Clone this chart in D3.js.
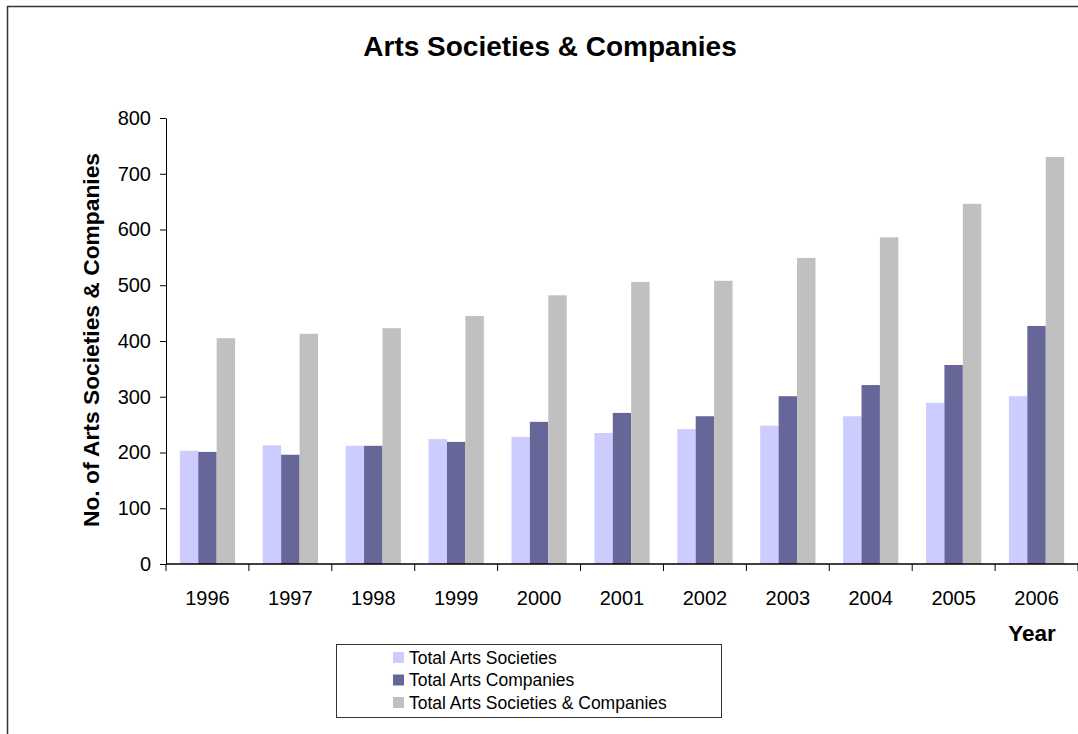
<!DOCTYPE html>
<html>
<head>
<meta charset="utf-8">
<script src="https://cdn.jsdelivr.net/npm/d3@7"></script>
<style>
	body { margin: 0; background: #fff; }
	svg { display: block; font-family: "Liberation Sans", Arial, sans-serif; }
	.axis path, .axis line { stroke: #000; }
	.axis text { font-size: 20px; fill: #000; }
</style>
</head>
<body>
<svg class="chart" width="1078" height="734"></svg>
<script>
// chart data
var years = ["1996","1997","1998","1999","2000","2001","2002","2003","2004","2005","2006"];
var seriesNames = ["Total Arts Societies", "Total Arts Companies", "Total Arts Societies & Companies"];
var societies = [203, 213, 212, 224, 228, 235, 242, 248, 265, 289, 301];
var companies = [201, 196, 212, 219, 255, 271, 265, 301, 321, 357, 427];
var combined  = [405, 413, 423, 445, 482, 506, 508, 549, 586, 646, 730];
var yTicks = [0, 100, 200, 300, 400, 500, 600, 700, 800];
var colors = ["#ccccff", "#666699", "#c0c0c0"];

function drawChart() {
	var svg = d3.select(".chart");

	var left = 166, right = 1078, top = 118, bottom = 564;

	// chart border
	svg.append("rect")
		.attr("x", 7.5).attr("y", 6.5)
		.attr("width", 1100).attr("height", 800)
		.attr("fill", "none")
		.attr("stroke", "#333")
		.attr("stroke-width", 1.5);

	var x = d3.scaleBand()
		.domain(years)
		.range([left, right]);

	var bw = x.bandwidth() / 4.5;
	var x1 = d3.scaleBand()
		.domain(d3.range(seriesNames.length))
		.range([bw * 0.75, bw * 3.75]);

	var y = d3.scaleLinear()
		.domain([0, 800])
		.range([bottom, top]);

	var data = years.map(function(yr, i) {
		return {year: yr, values: [societies[i], companies[i], combined[i]]};
	});

	// bars
	var groups = svg.selectAll(".grp")
		.data(data)
	  .enter().append("g")
		.attr("class", "grp")
		.attr("transform", function(d) { return "translate(" + x(d.year) + ",0)"; });

	groups.selectAll("rect")
		.data(function(d) { return d.values; })
	  .enter().append("rect")
		.attr("x", function(d, i) { return x1(i); })
		.attr("y", function(d) { return y(d); })
		.attr("width", x1.bandwidth())
		.attr("height", function(d) { return bottom - y(d); })
		.attr("fill", function(d, i) { return colors[i]; });

	// y axis
	svg.append("g")
		.attr("class", "y axis")
		.attr("transform", "translate(" + left + ",0)")
		.call(d3.axisLeft(y).tickValues(yTicks).tickSize(6).tickPadding(9).tickSizeOuter(0));

	// x axis: ticks on category boundaries
	var xAxis = svg.append("g")
		.attr("class", "x axis")
		.attr("transform", "translate(0," + bottom + ")");
	xAxis.append("line")
		.attr("x1", left).attr("x2", right)
		.attr("stroke", "#000").attr("stroke-width", 1.5);
	xAxis.selectAll(".tk")
		.data(years.concat(["end"]))
	  .enter().append("line")
		.attr("class", "tk")
		.attr("x1", function(d, i) { return i < years.length ? x(d) : right; })
		.attr("x2", function(d, i) { return i < years.length ? x(d) : right; })
		.attr("y1", 0).attr("y2", 7)
		.attr("stroke", "#333");
	xAxis.selectAll(".lbl")
		.data(years)
	  .enter().append("text")
		.attr("class", "lbl")
		.attr("x", function(d) { return x(d) + x.bandwidth() / 2; })
		.attr("y", 41)
		.attr("text-anchor", "middle")
		.text(function(d) { return d; });

	// title
	svg.append("text")
		.attr("x", 550).attr("y", 56)
		.attr("text-anchor", "middle")
		.style("font-size", "28px").style("font-weight", "bold")
		.text("Arts Societies & Companies");

	// y axis title
	svg.append("text")
		.attr("transform", "translate(99," + ((top + bottom) / 2 - 1) + ") rotate(-90)")
		.attr("text-anchor", "middle")
		.style("font-size", "22.8px").style("font-weight", "bold")
		.text("No. of Arts Societies & Companies");

	// x axis title
	svg.append("text")
		.attr("x", 1032).attr("y", 641)
		.attr("text-anchor", "middle")
		.style("font-size", "22.5px").style("font-weight", "bold")
		.text("Year");

	// legend
	var legend = svg.append("g").attr("transform", "translate(336,644)");
	legend.append("rect")
		.attr("x", 0.5).attr("y", 0.5)
		.attr("width", 385).attr("height", 73)
		.attr("fill", "#fff").attr("stroke", "#333");
	var item = legend.selectAll(".item")
		.data(seriesNames)
	  .enter().append("g")
		.attr("class", "item")
		.attr("transform", function(d, i) { return "translate(0," + (i * 22.5) + ")"; });
	item.append("rect")
		.attr("x", 57).attr("y", 8)
		.attr("width", 11).attr("height", 11)
		.attr("fill", function(d, i) { return colors[i]; });
	item.append("text")
		.attr("x", 73).attr("y", 19.5)
		.style("font-size", "17.5px")
		.text(function(d) { return d; });
}

drawChart();
</script>
</body>
</html>
